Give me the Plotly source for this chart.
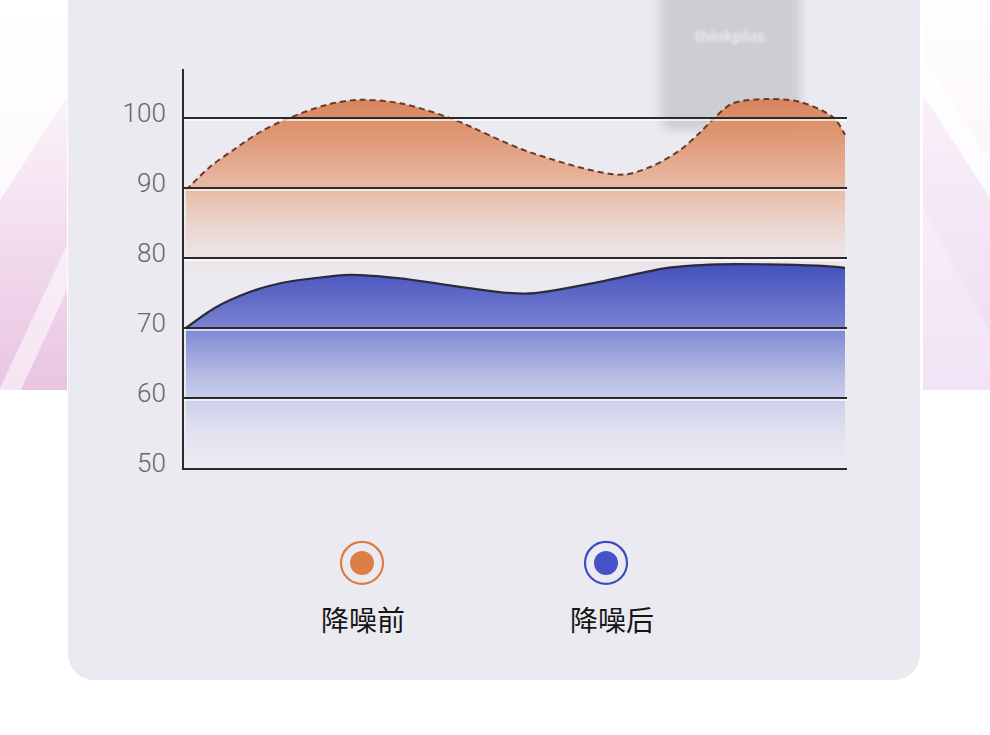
import base64
import plotly.graph_objects as go

# ---------------- data ----------------
pos_before = [0.3, 3.9, 7.4, 11.5, 15.6, 21.6, 26.5, 32.6, 40.1, 52.2, 65.8, 70.3, 74.8, 77.8, 80.1, 82.8, 87.9, 92.9, 97.9, 99.7]
before = [89.7, 93.0, 95.4, 98.0, 99.9, 101.9, 102.6, 102.1, 100.0, 95.1, 91.9, 93.0, 95.4, 97.9, 100.1, 102.1, 102.7, 102.3, 100.1, 97.6]

pos_after = [0.3, 4.7, 9.5, 14.5, 19.5, 25.0, 32.6, 40.1, 51.4, 62.7, 72.9, 80.4, 87.9, 95.5, 99.7]
after = [70.0, 72.9, 75.0, 76.4, 77.1, 77.6, 77.1, 76.1, 74.9, 76.6, 78.6, 79.1, 79.1, 78.9, 78.6]

y_ticks = [50, 60, 70, 80, 90, 100]
series_names = ["降噪前", "降噪后"]

# ---------------- background (decoration) ----------------
svg = '''<svg xmlns="http://www.w3.org/2000/svg" width="990" height="735" viewBox="0 0 990 735">
<defs>
<linearGradient id="lg" x1="0" y1="0" x2="0" y2="1">
<stop offset="0" stop-color="#ffffff"/>
<stop offset="0.25" stop-color="#fbf3f9"/>
<stop offset="1" stop-color="#e9c4e2"/>
</linearGradient>
<linearGradient id="rg" x1="0" y1="0" x2="0" y2="1">
<stop offset="0" stop-color="#fffbfd"/>
<stop offset="0.3" stop-color="#f9eef8"/>
<stop offset="1" stop-color="#eddaf2"/>
</linearGradient>
<filter id="bl" x="-30%" y="-30%" width="160%" height="160%"><feGaussianBlur stdDeviation="5"/></filter>
<filter id="bl2"><feGaussianBlur stdDeviation="1.5"/></filter>
<clipPath id="lc"><rect x="0" y="0" width="67" height="390"/></clipPath>
<clipPath id="rc"><rect x="923" y="0" width="67" height="390"/></clipPath>
</defs>
<rect width="990" height="735" fill="#ffffff"/>
<g clip-path="url(#lc)">
<rect x="0" y="0" width="67" height="390" fill="url(#lg)"/>
<polygon points="0,0 67,0 67,97 0,200" fill="#ffffff" opacity="0.75"/>
<polygon points="0,392 20,392 67,290 67,245 0,388" fill="#ffffff" opacity="0.55"/>
</g>
<g clip-path="url(#rc)">
<rect x="923" y="0" width="67" height="390" fill="url(#rg)"/>
<polygon points="923,0 990,0 990,160 923,57" fill="#ffffff" opacity="0.6"/>
<polygon points="923,57 990,160 990,198 923,95" fill="#ffffff" opacity="0.85"/>
<polygon points="923,207 990,333 990,390 923,390" fill="#ffffff" opacity="0.25"/>
</g>
<path d="M68,-40 H920 V654 A26,26 0 0 1 894,680 H94 A26,26 0 0 1 68,654 Z" fill="#ebeaf1"/>
<rect x="660" y="-30" width="140" height="160" rx="14" fill="#cdcdd4" filter="url(#bl)"/>
<text x="730" y="42" text-anchor="middle" font-family="Roboto, sans-serif" font-weight="bold" font-size="17" fill="#e6e6ea" filter="url(#bl2)">thinkplus</text>
</svg>'''
svg_uri = "data:image/svg+xml;base64," + base64.b64encode(svg.encode("utf-8")).decode()

fig = go.Figure()

# before (orange, dashed)
fig.add_trace(go.Scatter(
    x=pos_before, y=before, mode="lines", name=series_names[0],
    line=dict(color="#6a3a24", width=2, dash="6px,4px", shape="spline", smoothing=0.9),
    fill="tozeroy",
    fillgradient=dict(
        type="vertical", start=76, stop=103,
        colorscale=[
            [0.0, "rgba(236,226,232,0)"],
            [0.2, "rgba(238,218,214,0.6)"],
            [0.5, "rgba(232,182,158,0.88)"],
            [0.8, "rgba(222,148,110,0.96)"],
            [1.0, "rgba(214,132,92,1)"],
        ],
    ),
    hoverinfo="skip", showlegend=False,
))

# after (blue, solid)
fig.add_trace(go.Scatter(
    x=pos_after, y=after, mode="lines", name=series_names[1],
    line=dict(color="#2b2b3a", width=2.2, shape="spline", smoothing=0.85),
    fill="tozeroy",
    fillgradient=dict(
        type="vertical", start=50, stop=79.5,
        colorscale=[
            [0.0, "rgba(230,230,242,0)"],
            [0.2, "rgba(212,214,238,0.6)"],
            [0.45, "rgba(175,182,225,0.9)"],
            [0.7, "rgba(118,128,208,1)"],
            [1.0, "rgba(66,78,188,1)"],
        ],
    ),
    hoverinfo="skip", showlegend=False,
))

shapes = []
# gridlines drawn above the areas, with a light highlight below each
for t in y_ticks[1:]:
    shapes.append(dict(type="line", xref="x", yref="y", x0=0, x1=100, y0=t - 0.28, y1=t - 0.28,
                       line=dict(color="rgba(255,255,255,0.9)", width=1.5), layer="above"))
    shapes.append(dict(type="line", xref="x", yref="y", x0=0, x1=100, y0=t, y1=t,
                       line=dict(color="#2a2a2a", width=2), layer="above"))

# custom legend markers
legend_x = [0.2685, 0.6365]
legend_ring = ["#dc7b3e", "#3a4cc0"]
legend_dot = ["#dc7f45", "#4652c8"]
for lx, rc, dc in zip(legend_x, legend_ring, legend_dot):
    shapes.append(dict(type="circle", xref="paper", yref="paper", xsizemode="pixel", ysizemode="pixel",
                       xanchor=lx, yanchor=-0.238, x0=-21, x1=21, y0=-21, y1=21,
                       line=dict(color=rc, width=2.2), fillcolor="rgba(0,0,0,0)", layer="above"))
    shapes.append(dict(type="circle", xref="paper", yref="paper", xsizemode="pixel", ysizemode="pixel",
                       xanchor=lx, yanchor=-0.238, x0=-12, x1=12, y0=-12, y1=12,
                       line=dict(color=dc, width=0), fillcolor=dc, layer="above"))

annotations = []
label_x = [0.2700, 0.6460]
for lx, name in zip(label_x, series_names):
    annotations.append(dict(x=lx, y=-0.378, xref="paper", yref="paper", text=name, showarrow=False,
                            xanchor="center", yanchor="middle",
                            font=dict(family="Noto Sans CJK SC", size=28, color="#151515")))

fig.update_layout(
    width=990, height=735,
    margin=dict(l=184, r=143, t=69, b=267),
    paper_bgcolor="#ffffff", plot_bgcolor="rgba(0,0,0,0)",
    images=[dict(source=svg_uri, xref="paper", yref="paper", x=-184 / 663, y=468 / 399,
                 sizex=990 / 663, sizey=735 / 399, xanchor="left", yanchor="top",
                 sizing="stretch", layer="below")],
    shapes=shapes, annotations=annotations,
    showlegend=False,
    xaxis=dict(range=[0, 100], showgrid=False, zeroline=False, showticklabels=False,
               showline=True, linecolor="#2a2a2a", linewidth=2, ticks="", fixedrange=True,
               layer="above traces"),
    yaxis=dict(range=[50, 107], tickvals=y_ticks, ticktext=[str(t) for t in y_ticks],
               showgrid=False, zeroline=False, showline=True, linecolor="#2a2a2a", linewidth=2,
               ticks="", ticklabelstandoff=11, ticklabelshift=-5,
               tickfont=dict(family="Roboto", size=26, color="#67676c", weight=300),
               layer="above traces", fixedrange=True),
)

fig.write_html("out.html", config={"displayModeBar": False},
               post_script="document.body.style.margin='0';document.body.style.padding='0';")
